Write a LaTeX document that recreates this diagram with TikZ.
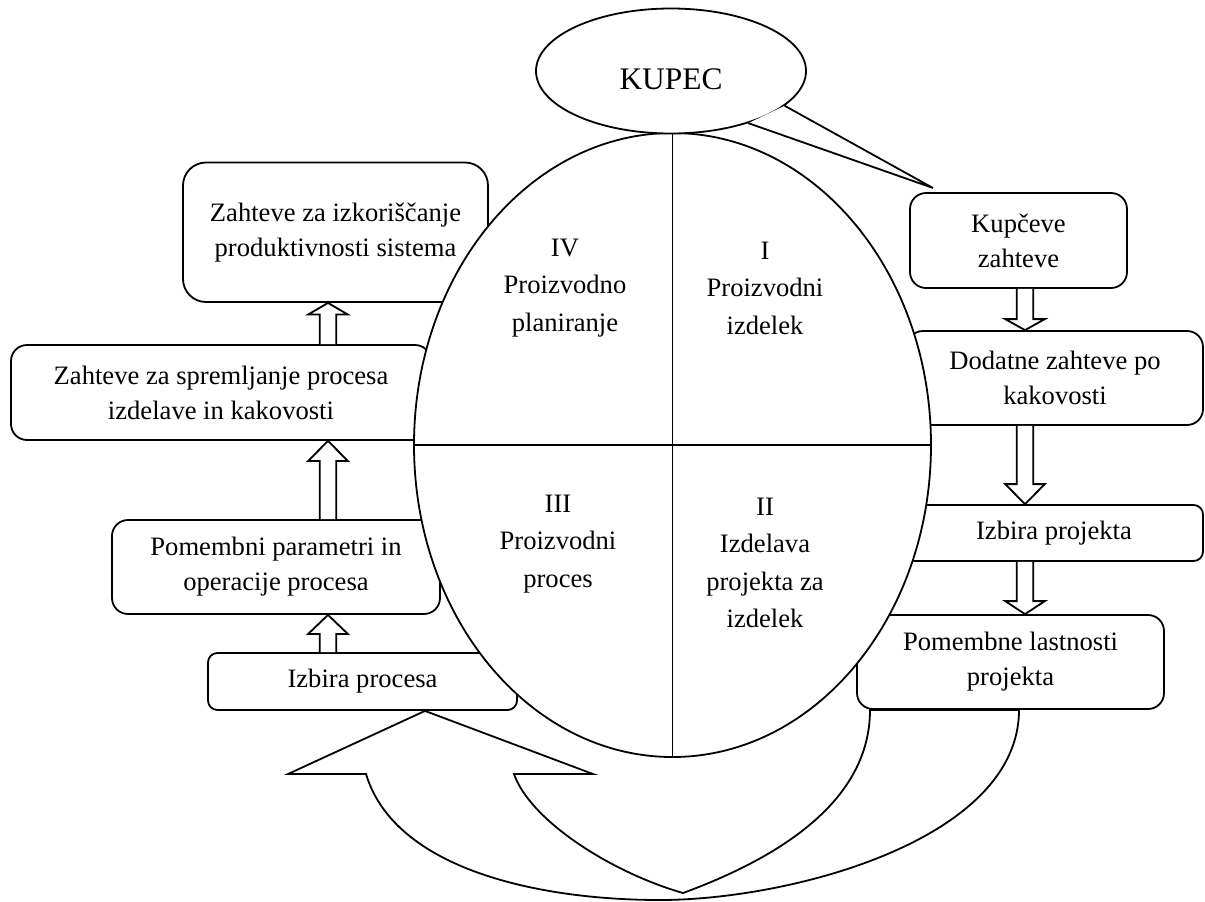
\documentclass[tikz,border=0pt]{standalone}
\usepackage{fontspec}
\setmainfont{Liberation Serif}
\usetikzlibrary{shapes.geometric,calc}
\tikzset{
  ln/.style={line width=0.9pt, draw=black, line join=miter},
  txt/.style={font=\fontsize{13.3}{17.5}\selectfont, align=center, inner sep=0pt},
  box/.style={ln, txt, rectangle, fill=white},
  qtext/.style={font=\fontsize{13.3}{18.75}\selectfont, align=center, inner sep=0pt},
  oval/.style={ln, ellipse, fill=white, inner sep=0pt},
}
\newcommand\hollowarrow[3]{% #1 tip, #2 tail, #3 signed head length
  \draw[ln, fill=white] ($(#2)+(-8.3,0)$) -- ($(#1)+(-8.3,#3)$) -- ($(#1)+(-19.8,#3)$) -- (#1)
    -- ($(#1)+(19.8,#3)$) -- ($(#1)+(8.3,#3)$) -- ($(#2)+(8.3,0)$);}
\begin{document}
\begin{tikzpicture}[x=0.5pt,y=-0.5pt]
\useasboundingbox (0,0) rectangle (1205,901);
% left column
\node[box, rounded corners=11.5pt, minimum width=152.5pt, minimum height=69.75pt] (A) at (335.5,232.25)
  {Zahteve za izkoriščanje\\produktivnosti sistema};
\node[box, rounded corners=8pt, minimum width=210pt, minimum height=47.5pt] (B) at (221,392.5)
  {Zahteve za spremljanje procesa\\izdelave in kakovosti};
\node[box, rounded corners=8pt, minimum width=164pt, minimum height=47pt] (C) at (276,567)
  {Pomembni parametri in\\operacije procesa};
\node[box, rounded corners=4.75pt, minimum width=154.5pt, minimum height=28.5pt] (D) at (362.5,681.5)
  {Izbira procesa};
% right column
\node[box, rounded corners=8pt, minimum width=108.5pt, minimum height=47.5pt] (K) at (1018.5,240.5)
  {Kupčeve\\zahteve};
\node[box, rounded corners=8pt, minimum width=148pt, minimum height=47pt] (Dd) at (1055,378)
  {Dodatne zahteve po\\kakovosti};
\node[box, rounded corners=4.7pt, minimum width=149pt, minimum height=28pt] (Ip) at (1054,533)
  {Izbira projekta};
\node[box, rounded corners=8pt, minimum width=153.5pt, minimum height=47pt] (E) at (1010.5,662)
  {Pomembne lastnosti\\projekta};
% hollow arrows
\coordinate (lx) at (328,0);
\coordinate (rx) at (1025,0);
\coordinate (a1t) at (lx |- A.south); \coordinate (a1s) at (lx |- B.north);
\coordinate (a2t) at (lx |- B.south); \coordinate (a2s) at (lx |- C.north);
\coordinate (a3t) at (lx |- C.south); \coordinate (a3s) at (lx |- D.north);
\coordinate (b1t) at (rx |- Dd.north); \coordinate (b1s) at (rx |- K.south);
\coordinate (b2t) at (rx |- Ip.north); \coordinate (b2s) at (rx |- Dd.south);
\coordinate (b3t) at (rx |- E.north); \coordinate (b3s) at (rx |- Ip.south);
\hollowarrow{a1t}{a1s}{11.6}
\hollowarrow{a2t}{a2s}{20}
\hollowarrow{a3t}{a3s}{19}
\hollowarrow{b1t}{b1s}{-11}
\hollowarrow{b2t}{b2s}{-20}
\hollowarrow{b3t}{b3s}{-13}
% big U-turn arrow from E back to D
\coordinate (bx) at (425,0);
\coordinate (bt) at (bx |- D.south);
\coordinate (einx) at (870,0);
\coordinate (eoutx) at (1019,0);
\coordinate (ein) at (einx |- E.south);
\coordinate (eout) at (eoutx |- E.south);
\draw[ln, fill=white] (bt) -- (593,774) -- (514,774)
  .. controls (530,820) and (610,872) .. (683,893)
  .. controls (800,850) and (870,790) .. (ein) -- (eout)
  .. controls (1019,840) and (790,900) .. (660,900)
  .. controls (540,900) and (395,870) .. (366,774) -- (288,774) -- cycle;
% central ellipse
\node[oval, minimum width=258.5pt, minimum height=312pt] (big) at (672.5,445) {};
\draw[ln] (big.north) -- (big.south);
\draw[ln] (big.west) -- (big.east);
\node[qtext] (q4) at (565,288) {IV\\Proizvodno\\planiranje};
\node[qtext] (q1) at (765,288) {I\\Proizvodni\\izdelek};
\node[qtext] (q3) at (558,544) {III\\Proizvodni\\proces};
\node[qtext] (q2) at (765,563) {II\\Izdelava\\projekta za\\izdelek};
% KUPEC callout
\node[oval, minimum width=135pt, minimum height=62.5pt, font=\fontsize{15.7}{18}\selectfont,
  text height=18.4pt, text depth=0pt] (kupec) at (671,71) {KUPEC};
\coordinate (tip) at (933,188);
\draw[ln, fill=white] (kupec.-17) -- (tip) -- (kupec.-34);
\end{tikzpicture}
\end{document}
